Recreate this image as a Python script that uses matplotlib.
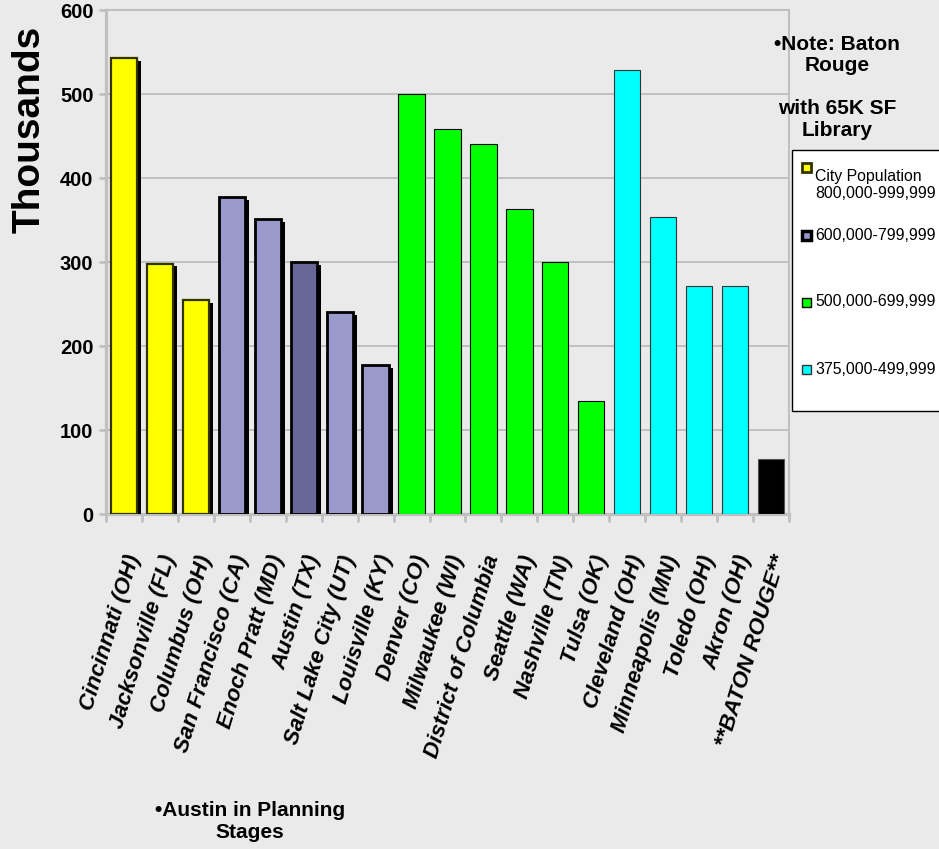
import matplotlib
matplotlib.use("Agg")
import matplotlib.pyplot as plt
import matplotlib.patheffects as pe
from matplotlib import font_manager as fm
from matplotlib.patches import Rectangle
from matplotlib.transforms import ScaledTranslation

# Datos
cities = ["Cincinnati (OH)", "Jacksonville (FL)", "Columbus (OH)", "San Francisco (CA)",
          "Enoch Pratt (MD)", "Austin (TX)", "Salt Lake City (UT)", "Louisville (KY)",
          "Denver (CO)", "Milwaukee (WI)", "District of Columbia", "Seattle (WA)",
          "Nashville (TN)", "Tulsa (OK)", "Cleveland (OH)", "Minneapolis (MN)",
          "Toledo (OH)", "Akron (OH)", "**BATON ROUGE**"]
library_sf_k = [543, 298, 255, 377, 351, 300, 240, 177, 500, 458, 440, 363, 300, 135,
                528, 354, 271, 271, 65]
group = ["g800", "g800", "g800", "g600", "g600", "austin", "g600", "g600",
         "g500", "g500", "g500", "g500", "g500", "g500",
         "g375", "g375", "g375", "g375", "br"]
legend_labels = ["City Population\n800,000-999,999", "600,000-799,999",
                 "500,000-699,999", "375,000-499,999"]
y_ticks = [0, 100, 200, 300, 400, 500, 600]

# Estilos por grupo: (relleno, borde, grosor, sombra)
styles = {
    "g800": ("#FFFF00", "#333300", 1.6, True),
    "g600": ("#9999CC", "black", 2.0, True),
    "austin": ("#666699", "black", 2.0, True),
    "g500": ("#00FF00", "black", 0.8, False),
    "g375": ("#00FFFF", "#333333", 0.8, False),
    "br": ("black", "#555555", 0.8, False),
}
legend_styles = [("#FFFF00", "#333300", 2.0), ("#9999CC", "black", 2.5),
                 ("#00FF00", "black", 1.0), ("#00FFFF", "#333333", 1.0)]

names = {f.name for f in fm.fontManager.ttflist}
narrow = "Liberation Sans Narrow" in names
nfam = "Liberation Sans Narrow" if narrow else "Liberation Sans"
plt.rcParams["font.family"] = ["Liberation Sans", "DejaVu Sans"]

bg = "#EAEAEA"
W, H = 939, 849
fig = plt.figure(figsize=(W / 100, H / 100), dpi=100, facecolor=bg)
ax = fig.add_axes([106 / W, 1 - 514 / H, (789 - 106) / W, (514 - 10) / H], facecolor=bg)

x = list(range(len(cities)))
for i in x:
    face, edge, lw, shadow = styles[group[i]]
    b = ax.bar(i, library_sf_k[i], width=0.73, color=face, edgecolor=edge,
               linewidth=lw, zorder=3)[0]
    if shadow:
        b.set_path_effects([pe.SimplePatchShadow(offset=(3, -2), shadow_rgbFace="black",
                                                 alpha=1.0), pe.Normal()])

ax.set_xlim(-0.5, len(cities) - 0.5)
ax.set_ylim(0, 600)
ax.set_yticks(y_ticks)
ax.yaxis.grid(True, color="#C0C0C0", linewidth=1.4)
ax.set_axisbelow(True)

for s in ["left", "bottom"]:
    ax.spines[s].set_color("#C0C0C0")
    ax.spines[s].set_linewidth(2.3)
for s in ["top", "right"]:
    ax.spines[s].set_color("#C0C0C0")
    ax.spines[s].set_linewidth(1.5)

ax.tick_params(axis="y", colors="#C0C0C0", length=5, width=2, pad=4, labelcolor="black")
for lab in ax.get_yticklabels():
    lab.set_fontfamily(nfam)
    lab.set_fontweight("bold")
    lab.set_fontsize(17 if narrow else 14.5)

# marcas en los limites de cada categoria
ax.set_xticks([i - 0.5 for i in range(len(cities) + 1)], minor=True)
ax.tick_params(axis="x", which="minor", colors="#C0C0C0", length=6, width=2)
ax.set_xticks(x)
ax.set_xticklabels(cities, rotation=73, ha="right", va="center", rotation_mode="anchor",
                   fontsize=16, fontweight="bold", fontstyle="italic")
ax.tick_params(axis="x", which="major", length=0, pad=30)
for lab in ax.get_xticklabels():
    lab.set_transform(lab.get_transform() + ScaledTranslation(0.1, 0, fig.dpi_scale_trans))

fig.text(30 / W, 1 - 129 / H, "Thousands", rotation=90, ha="center", va="center",
         fontsize=28, fontweight="bold")

fig.text(250 / W, 1 - 822 / H, "\u2022Austin in Planning\nStages", ha="center", va="center",
         multialignment="center", fontsize=15, fontweight="bold", linespacing=1.2)
fig.text(837 / W, 1 - 55 / H, "\u2022Note: Baton\nRouge", ha="center", va="center",
         multialignment="center", fontsize=15, fontweight="bold", linespacing=1.15)
fig.text(837 / W, 1 - 119 / H, "with 65K SF\nLibrary", ha="center", va="center",
         multialignment="center", fontsize=15, fontweight="bold", linespacing=1.2)

# Leyenda dibujada a mano
fig.patches.append(Rectangle((791.5 / W, 1 - 411 / H), 200 / W, (411 - 150) / H,
                             transform=fig.transFigure, facecolor="white",
                             edgecolor="black", linewidth=1.0, zorder=5))
key_y = [167, 235, 302, 369]
text_y = [185, 236, 302, 369]
for (face, edge, lw), ky, ty, lab in zip(legend_styles, key_y, text_y, legend_labels):
    fig.patches.append(Rectangle(((806 - 4.5) / W, 1 - (ky + 4.5) / H), 9 / W, 9 / H,
                                 transform=fig.transFigure, facecolor=face,
                                 edgecolor=edge, linewidth=lw, zorder=6))
    fig.text(815 / W, 1 - ty / H, lab, ha="left", va="center", fontfamily=nfam,
             fontsize=13.4 if narrow else 11.4, linespacing=1.25, zorder=7)

fig.savefig("out.png", dpi=100, facecolor=bg)
